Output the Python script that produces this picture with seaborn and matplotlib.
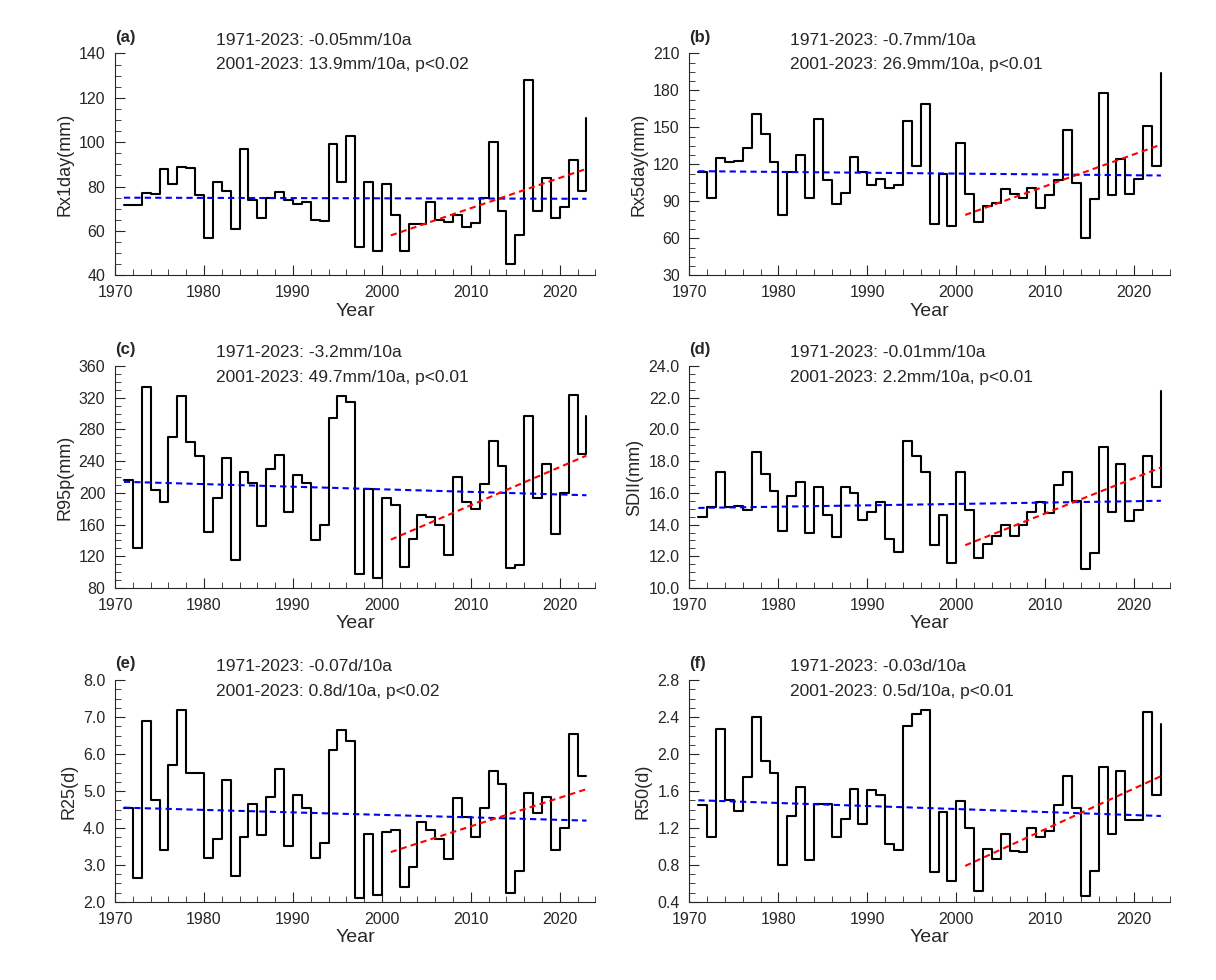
import numpy as np
import pandas as pd
import matplotlib
matplotlib.use("Agg")
import matplotlib.pyplot as plt
from matplotlib.ticker import MultipleLocator, FormatStrFormatter
import seaborn as sns

sns.set_style("ticks")
plt.rcParams['font.family'] = ['Liberation Sans', 'DejaVu Sans']

years = list(range(1971, 2024))

rx1day = [71.5,71.5,77,76.5,88,81,89,88.5,76,57,82,78,61,97,74,66,75,77.5,74,72,73,65,64.5,99,82,103,53,82,51,81,
          67,51,63,63,73,65,64,67,62,63.5,75,100,69,45,58,128,69,84,66,71,92,78,111]
rx5day = [114,93,125,122,123,133,161,145,122,79,114,128,93,157,107,88,97,126,114,103,108,101,103,155,119,169,72,112,70,137,
          96,73,86,89,100,96,93,101,85,95,107,148,105,60,92,178,95,124,96,108,151,119,194]
r95p = [216,131,333,203,189,270,322,264,247,151,193,244,115,226,213,158,230,248,176,222,213,141,159,295,322,315,98,205,93,193,
        185,106,142,172,170,159,122,220,188,180,211,265,234,105,109,297,193,237,148,200,323,249,297]
sdii = [14.5,15.1,17.3,15.1,15.2,14.9,18.6,17.2,16.1,13.6,15.8,16.7,13.5,16.4,14.6,13.2,16.4,16.0,14.3,14.8,15.4,13.1,12.3,19.3,18.3,17.3,12.7,14.6,11.6,17.3,
        14.9,11.9,12.8,13.3,14.0,13.3,14.0,14.8,15.4,14.7,16.5,17.3,15.5,11.2,12.2,18.9,14.8,17.8,14.2,14.9,18.3,16.4,22.4]
r25 = [4.55,2.65,6.9,4.75,3.4,5.7,7.2,5.5,5.5,3.2,3.7,5.3,2.7,3.75,4.65,3.8,4.85,5.6,3.5,4.9,4.55,3.2,3.6,6.1,6.65,6.35,2.1,3.85,2.2,3.9,
       3.95,2.4,2.95,4.15,3.95,3.7,3.15,4.8,4.3,3.75,4.55,5.55,5.2,2.25,2.85,4.95,4.4,4.85,3.4,4.0,6.55,5.4,5.4]
r50 = [1.45,1.1,2.27,1.5,1.38,1.75,2.4,1.92,1.8,0.8,1.33,1.64,0.85,1.46,1.46,1.1,1.3,1.62,1.24,1.61,1.56,1.03,0.96,2.3,2.43,2.48,0.72,1.37,0.63,1.49,
       1.2,0.52,0.97,0.87,1.13,0.95,0.94,1.2,1.1,1.17,1.45,1.76,1.42,0.47,0.73,1.86,1.13,1.82,1.29,1.29,2.45,1.56,2.32]

trend_all_years = [1971, 2023]
trend_recent_years = [2001, 2023]
trend_all = {"a": [75, 74.5], "b": [114.5, 111], "c": [214, 197], "d": [15.05, 15.5], "e": [4.55, 4.2], "f": [1.5, 1.33]}
trend_recent = {"a": [58, 88], "b": [79, 136], "c": [141, 247], "d": [12.7, 17.6], "e": [3.35, 5.05], "f": [0.79, 1.76]}

labels = ["a", "b", "c", "d", "e", "f"]
series = [rx1day, rx5day, r95p, sdii, r25, r50]
ylabels = ["Rx1day(mm)", "Rx5day(mm)", "R95p(mm)", "SDII(mm)", "R25(d)", "R50(d)"]
texts = [("1971-2023: -0.05mm/10a", "2001-2023: 13.9mm/10a, p<0.02"),
         ("1971-2023: -0.7mm/10a", "2001-2023: 26.9mm/10a, p<0.01"),
         ("1971-2023: -3.2mm/10a", "2001-2023: 49.7mm/10a, p<0.01"),
         ("1971-2023: -0.01mm/10a", "2001-2023: 2.2mm/10a, p<0.01"),
         ("1971-2023: -0.07d/10a", "2001-2023: 0.8d/10a, p<0.02"),
         ("1971-2023: -0.03d/10a", "2001-2023: 0.5d/10a, p<0.01")]
ylims = [(40, 140, 20, 5, "%d"), (30, 210, 30, 7.5, "%d"), (80, 360, 40, 10, "%d"),
         (10, 24, 2, 0.5, "%.1f"), (2, 8, 1, 0.25, "%.1f"), (0.4, 2.8, 0.4, 0.1, "%.1f")]

fig = plt.figure(figsize=(12.16, 9.8), dpi=100)
lefts = [0.0946, 0.567]
bottoms = [0.719, 0.40, 0.0796]
for i in range(6):
    r, c = divmod(i, 2)
    ax = fig.add_axes([lefts[c], bottoms[r], 0.395, 0.2265])
    df = pd.DataFrame({"Year": years, "v": series[i]})
    sns.lineplot(data=df, x="Year", y="v", ax=ax, color="black", lw=1.5, drawstyle="steps-post")
    sns.lineplot(x=trend_all_years, y=trend_all[labels[i]], ax=ax, color="blue", lw=1.5, linestyle=(0, (3, 2)))
    sns.lineplot(x=trend_recent_years, y=trend_recent[labels[i]], ax=ax, color="red", lw=1.5, linestyle=(0, (3, 2)))
    lo, hi, maj, mnr, fmt = ylims[i]
    ax.set_ylim(lo, hi)
    ax.set_xlim(1970, 2024)
    ax.yaxis.set_major_locator(MultipleLocator(maj))
    ax.yaxis.set_minor_locator(MultipleLocator(mnr))
    ax.yaxis.set_major_formatter(FormatStrFormatter(fmt))
    ax.xaxis.set_major_locator(MultipleLocator(10))
    ax.xaxis.set_minor_locator(MultipleLocator(2))
    ax.tick_params(which="both", direction="in", labelsize=11.5)
    ax.tick_params(which="major", length=7, pad=7)
    ax.tick_params(which="minor", length=4)
    for s in ["top", "right"]:
        ax.spines[s].set_visible(False)
    ax.set_xlabel("Year", fontsize=14, labelpad=2)
    ax.set_ylabel(ylabels[i], fontsize=13)
    ax.text(0.0, 1.04, f"({labels[i]})", transform=ax.transAxes, fontsize=12, fontweight="bold", va="bottom")
    ax.text(0.21, 1.06, texts[i][0], transform=ax.transAxes, fontsize=12.5, va="center")
    ax.text(0.21, 0.95, texts[i][1], transform=ax.transAxes, fontsize=12.5, va="center")

fig.savefig("out.png", dpi=100)
